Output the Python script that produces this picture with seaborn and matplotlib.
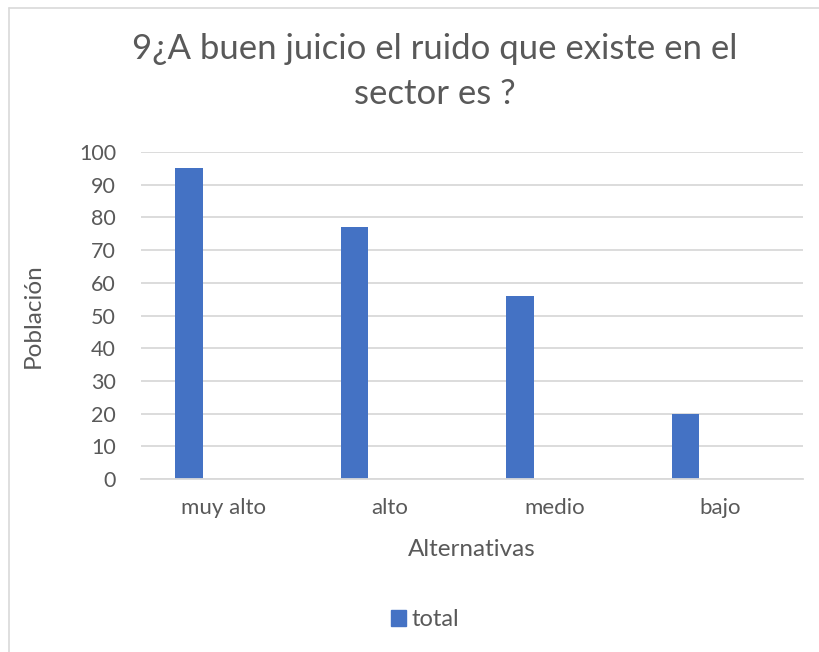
import matplotlib
matplotlib.use("Agg")
import matplotlib.pyplot as plt
import seaborn as sns
import pandas as pd
from matplotlib.patches import Patch
from matplotlib.lines import Line2D

categories = ["muy alto", "alto", "medio", "bajo"]
values_total = [95, 77, 56, 20]
values_empty = [0, 0, 0, 0]   # empty second series (Excel layout)
title_line1 = "9¿A buen juicio el ruido que existe en el"
title_line2 = "sector es ?"

df = pd.DataFrame({
    "cat": categories * 2,
    "val": values_total + values_empty,
    "serie": ["total"] * len(categories) + ["vacio"] * len(categories),
})

sns.set_theme(style="white")
plt.rcParams['font.family'] = ['Lato', 'DejaVu Sans']

fig = plt.figure(figsize=(8.19, 6.52), dpi=100)
ax = fig.add_axes([141/819, 1-479/652, (803-141)/819, (479-152)/652])

sns.barplot(data=df, x="cat", y="val", hue="serie", hue_order=["total", "vacio"],
            order=categories, palette={"total": "#4472C4", "vacio": "#ffffff"},
            width=0.84, gap=0.6, ax=ax, legend=False, saturation=1,
            errorbar=None, linewidth=0)

ax.set_ylim(0, 100)
ax.set_yticks(range(0, 101, 10))
ax.set_xlim(-0.5, 3.5)
ax.yaxis.grid(True, color="#d9d9d9", linewidth=1.3)
ax.set_axisbelow(True)
for s in ["top", "right", "left"]:
    ax.spines[s].set_visible(False)
ax.spines["bottom"].set_color("#d9d9d9")
ax.spines["bottom"].set_linewidth(1.3)
ax.tick_params(axis="x", length=0, labelsize=16, colors="#595959", pad=14)
ax.tick_params(axis="y", length=0, labelsize=15.5, colors="#595959", pad=18)
ax.set_xlabel("Alternativas", fontsize=17.5, color="#595959")
ax.set_ylabel("Población", fontsize=17.5, color="#595959")
ax.xaxis.set_label_coords(0.5, (479-549)/327)
ax.xaxis.label.set_va("center")
ax.yaxis.set_label_coords((33-141)/662, 0.5)
ax.yaxis.label.set_va("center")

fig.text(435/819, 1-59/652, title_line1, ha="center", va="baseline",
         fontsize=25, color="#595959")
fig.text(435/819, 1-104/652, title_line2, ha="center", va="baseline",
         fontsize=25, color="#595959")

fig.legend(handles=[Patch(color="#4472C4", label="total")], loc="center",
           bbox_to_anchor=(425/819, 1-620/652), frameon=False, fontsize=17,
           handlelength=0.65, handleheight=0.65, handletextpad=0.25,
           labelcolor="#595959")

# chart area border (Excel style)
fig.add_artist(Line2D([9/819, 9/819], [0, 1-8/652], transform=fig.transFigure,
                      color="#d9d9d9", linewidth=1.2))
fig.add_artist(Line2D([9/819, 1], [1-8/652, 1-8/652], transform=fig.transFigure,
                      color="#d9d9d9", linewidth=1.2))

fig.savefig("out.png", dpi=100, facecolor="white")
